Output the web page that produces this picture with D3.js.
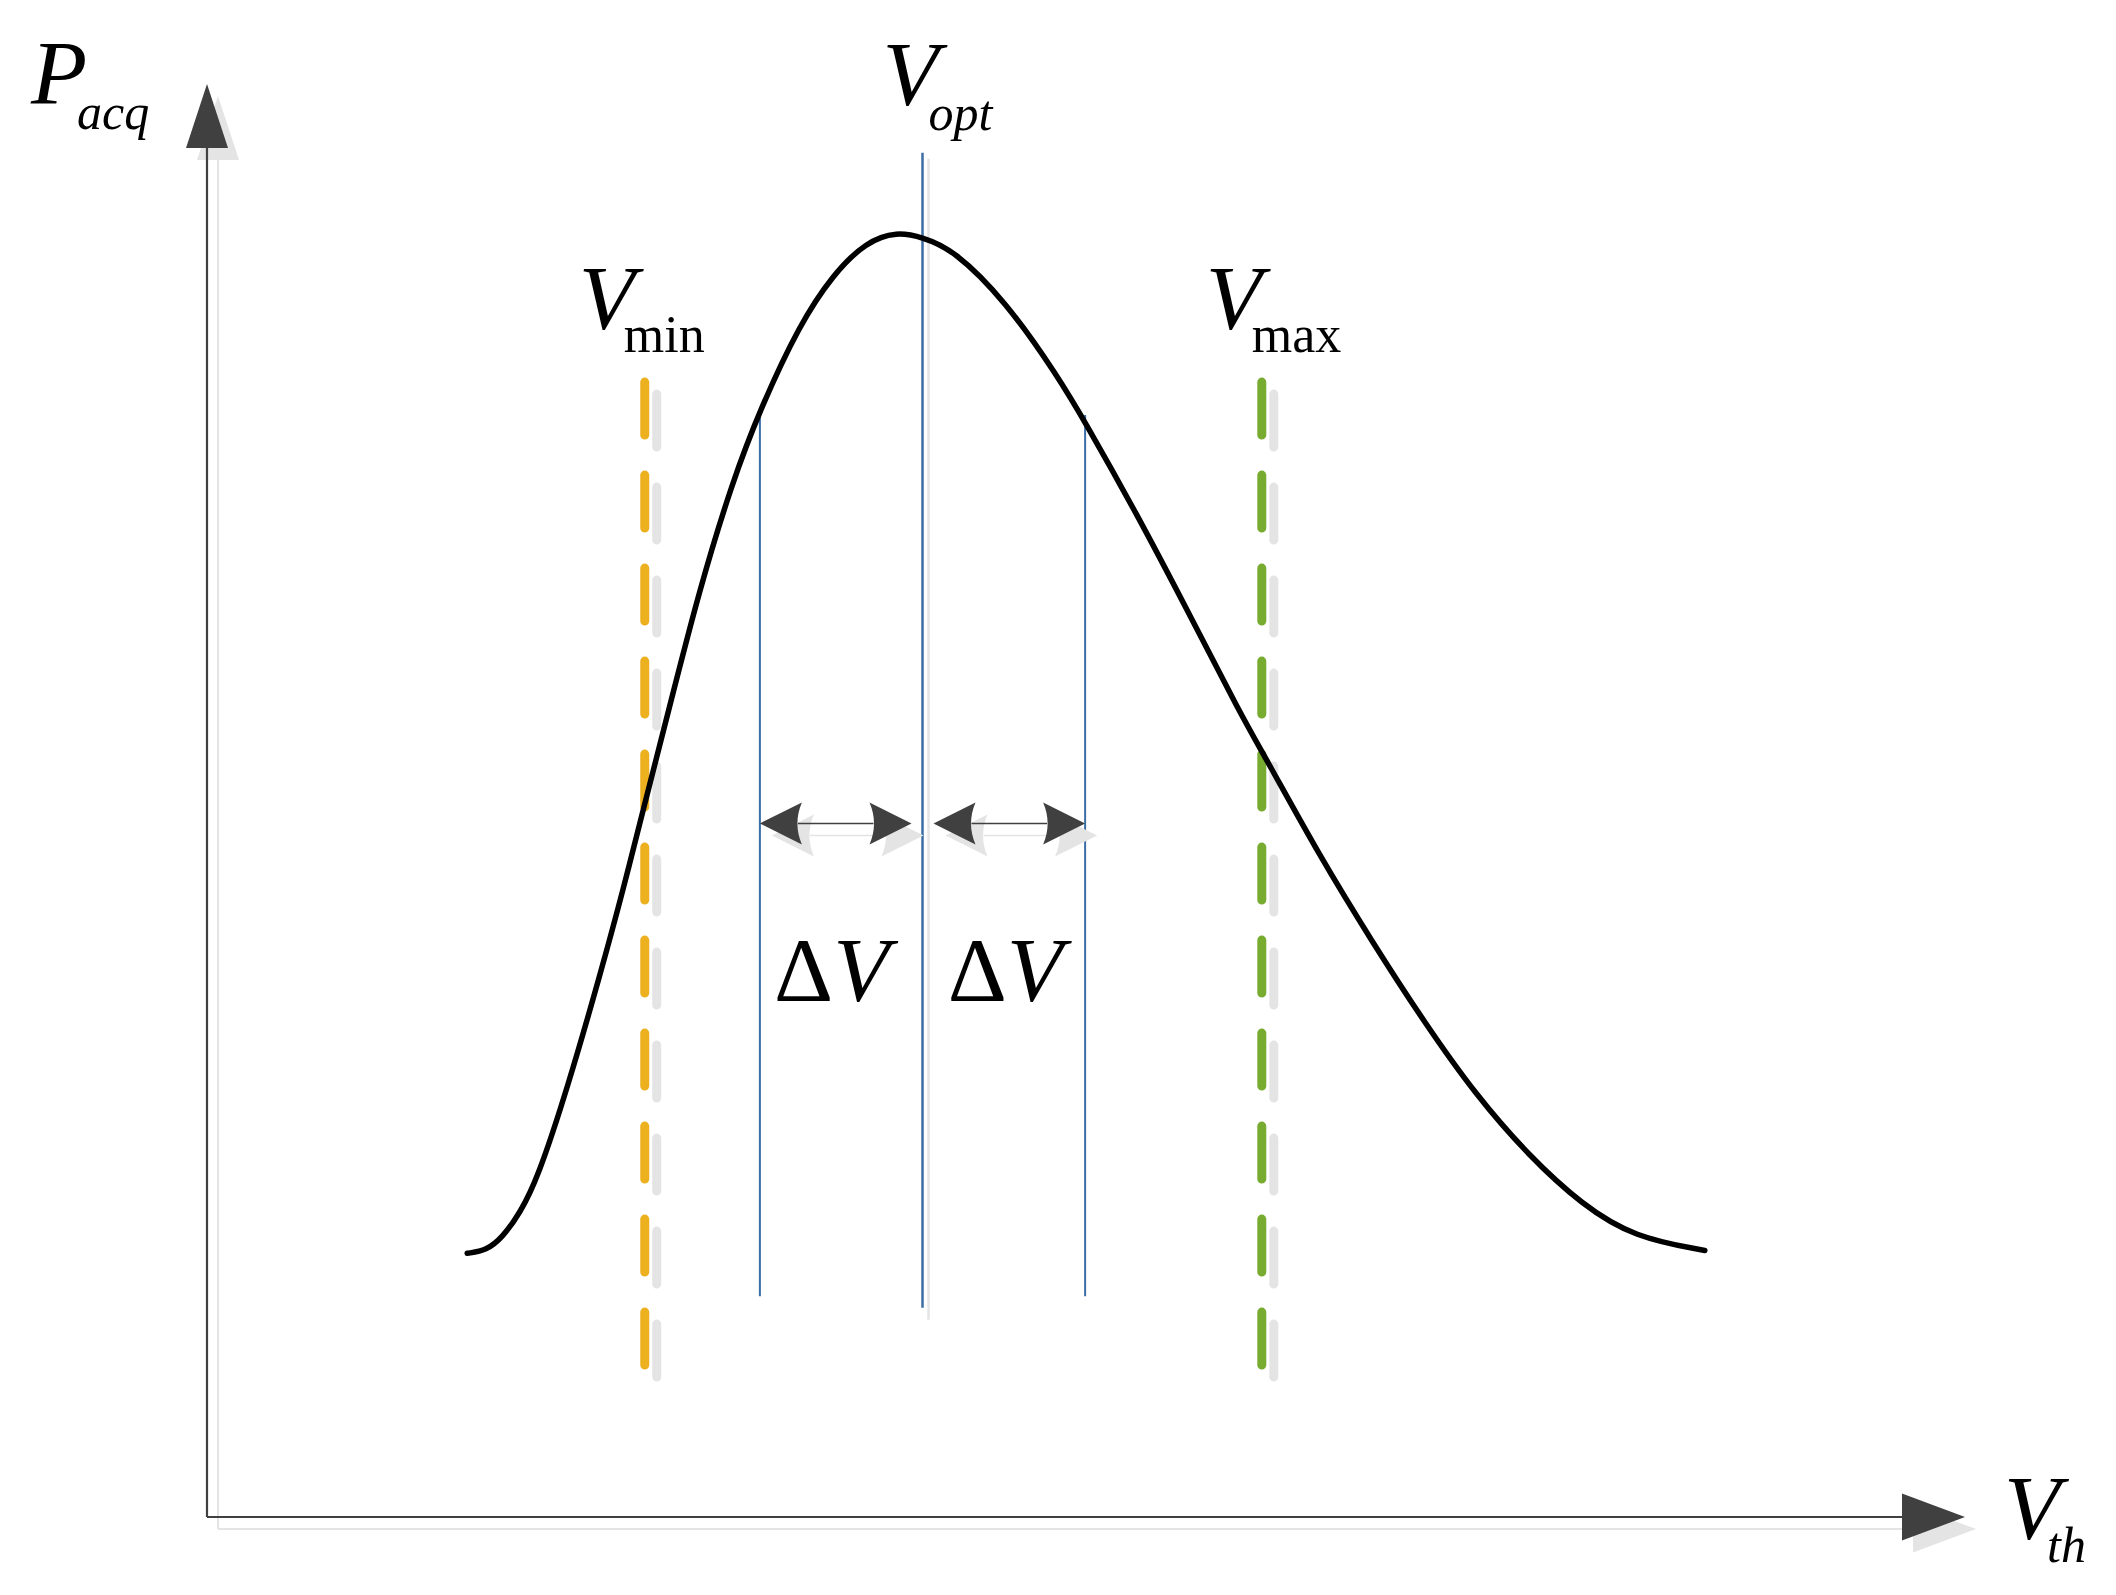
<!DOCTYPE html>
<html>
<head>
<meta charset="utf-8">
<script src="https://cdn.jsdelivr.net/npm/d3@7"></script>
<style>
  body { margin: 0; background: #ffffff; }
  text { font-family: 'Liberation Serif', 'Times New Roman', serif; fill: #000; }
</style>
</head>
<body>
<script>
// Curve (normalised 0-100 units on both axes)
const curveX = [14.8, 15.9, 16.8, 17.8, 18.8, 20.5, 22.4, 23.7, 24.8, 26.2, 28.0, 29.9, 31.5, 33.7, 35.6, 37.5, 39.25,
                40.7, 42.4, 45.4, 48.4, 50.0, 52.8, 55.8, 58.8, 60.3, 63.3, 66.3, 69.2, 72.2, 75.2, 78.2, 81.2, 85.2]
const curveY = [18.4, 18.6, 19.5, 21.2, 23.6, 29.9, 38.0, 43.9, 49.3, 56.0, 64.7, 72.3, 77.4, 83.2, 86.7, 89.0, 89.7,
                89.3, 88.5, 84.9, 79.6, 76.3, 70.2, 63.2, 56.0, 52.8, 46.1, 40.1, 34.6, 29.4, 25.2, 21.8, 19.5, 18.6]

// Threshold markers
const vMin = 24.9
const vOpt = 40.7
const vMax = 60.0
const deltaV = 9.25

// Vertical extents of the guide lines
const limitSpan = [10.5, 79.2]      // dashed Vmin / Vmax lines
const optSpan = [14.6, 95.2]        // Vopt line
const bandBottom = 15.4
const bandTop = [77.3, 76.9]        // where the ±ΔV lines meet the curve
const arrowLevel = 48.4

const W = 2116, H = 1595
const dark = '#404040', shade = '#e4e4e4'
const blue = '#3b6ea6', orange = '#edb120', green = '#77ac30'

let svg = d3.select('body').append('svg')
    .attr('width', W)
    .attr('height', H)

svg.append('rect').attr('width', W).attr('height', H).attr('fill', '#fff')

let x = d3.scaleLinear().domain([0, 100]).range([207, 1965]),
    y = d3.scaleLinear().domain([0, 100]).range([1517, 84])

// arrow head path, tip at (tx, ty), pointing in direction (dx, dy)
function headPath(tx, ty, dx, dy, len, half, dent) {
    let px = -dy, py = dx
    let bx = tx - dx * len, by = ty - dy * len
    let p = d3.path()
    p.moveTo(tx, ty)
    p.lineTo(bx + px * half, by + py * half)
    p.quadraticCurveTo(bx + dx * dent * 2, by + dy * dent * 2, bx - px * half, by - py * half)
    p.closePath()
    return p.toString()
}

// Axes (shadow first, then the dark ones)
function drawAxes(g, col, w) {
    g.append('line')
        .attr('x1', x(0)).attr('y1', y(0))
        .attr('x2', x(0)).attr('y2', y(100) + 62)
        .attr('stroke', col).attr('stroke-width', w)
    g.append('line')
        .attr('x1', x(0)).attr('y1', y(0))
        .attr('x2', x(100) - 60).attr('y2', y(0))
        .attr('stroke', col).attr('stroke-width', w)
    g.append('path')
        .attr('d', headPath(x(0), y(100), 0, -1, 64, 21, 0))
        .attr('fill', col)
    g.append('path')
        .attr('d', headPath(x(100), y(0), 1, 0, 63, 23.5, 0))
        .attr('fill', col)
}
drawAxes(svg.append('g').attr('transform', 'translate(11,12)'), shade, 2)
drawAxes(svg.append('g'), dark, 2.2)

// Dashed Vmin / Vmax lines with their shadows
function dashed(xv, col) {
    [[shade, 12], [col, 0]].forEach(function (s) {
        svg.append('line')
            .attr('transform', 'translate(' + s[1] + ',' + s[1] + ')')
            .attr('x1', x(xv)).attr('x2', x(xv))
            .attr('y1', y(limitSpan[1])).attr('y2', y(limitSpan[0]))
            .attr('stroke', s[0])
            .attr('stroke-width', 9)
            .attr('stroke-linecap', 'round')
            .attr('stroke-dasharray', '53 40')
    })
}
dashed(vMin, orange)
dashed(vMax, green)

// Vopt line and shadow
svg.append('line')
    .attr('x1', x(vOpt) + 6).attr('x2', x(vOpt) + 6)
    .attr('y1', y(optSpan[1]) + 6).attr('y2', y(optSpan[0]) + 12)
    .attr('stroke', shade).attr('stroke-width', 2.5)
svg.append('line')
    .attr('x1', x(vOpt)).attr('x2', x(vOpt))
    .attr('y1', y(optSpan[1])).attr('y2', y(optSpan[0]))
    .attr('stroke', blue).attr('stroke-width', 2.5)

// ±ΔV lines
let bandX = [vOpt - deltaV, vOpt + deltaV]
bandX.forEach(function (bx, i) {
    svg.append('line')
        .attr('x1', x(bx)).attr('x2', x(bx))
        .attr('y1', y(bandTop[i])).attr('y2', y(bandBottom))
        .attr('stroke', blue).attr('stroke-width', 2)
})

// Double arrows between the lines
function doubleArrow(g, x1, x2, yy, col) {
    g.append('line')
        .attr('x1', x1 + 38).attr('x2', x2 - 38)
        .attr('y1', yy).attr('y2', yy)
        .attr('stroke', col).attr('stroke-width', 1.6)
    g.append('path').attr('d', headPath(x1, yy, -1, 0, 42, 21, 4.5)).attr('fill', col)
    g.append('path').attr('d', headPath(x2, yy, 1, 0, 42, 21, 4.5)).attr('fill', col)
}
let gap = 11
let spans = [[x(bandX[0]), x(vOpt) - gap], [x(vOpt) + gap, x(bandX[1])]]
let shadeG = svg.append('g').attr('transform', 'translate(12,12)')
spans.forEach(function (s) { doubleArrow(shadeG, s[0], s[1], y(arrowLevel), shade) })
let darkG = svg.append('g')
spans.forEach(function (s) { doubleArrow(darkG, s[0], s[1], y(arrowLevel), dark) })

// The curve
let line = d3.line()
    .x(function (d) { return x(d[0]) })
    .y(function (d) { return y(d[1]) })
    .curve(d3.curveBasis)

svg.append('path')
    .datum(d3.zip(curveX, curveY))
    .attr('d', line)
    .attr('fill', 'none')
    .attr('stroke', '#000')
    .attr('stroke-width', 5.5)
    .attr('stroke-linecap', 'round')

// Labels: main letter plus subscript, kept in one text element
function label(mainX, mainY, main, subX, subY, sub, subItalic) {
    let t = svg.append('text')
    t.append('tspan')
        .attr('x', mainX).attr('y', mainY)
        .style('font-size', '92px').style('font-style', 'italic')
        .text(main)
    t.append('tspan')
        .attr('x', subX).attr('y', subY)
        .style('font-size', subItalic ? '50px' : '52px')
        .style('font-style', subItalic ? 'italic' : 'normal')
        .text(sub)
}
label(x(0) - 176, y(100) + 20, 'P', x(0) - 130, y(100) + 45, 'acq', true)
label(x(vOpt) - 40, 105, 'V', x(vOpt) + 6, 130, 'opt', true)
label(x(vMin) - 66, 329, 'V', x(vMin) - 21, 352, 'min', false)
label(x(vMax) - 56, 329, 'V', x(vMax) - 10, 352, 'max', false)
label(x(100) + 39, y(0) + 22, 'V', x(100) + 82, y(0) + 45, 'th', true)

spans.forEach(function (s) {
    let t = svg.append('text')
        .attr('x', (s[0] + s[1]) / 2 - 4)
        .attr('y', 1001)
        .attr('text-anchor', 'middle')
        .style('font-size', '92px')
    t.append('tspan').text('\u0394')
    t.append('tspan').style('font-style', 'italic').text('V')
})
</script>
</body>
</html>
